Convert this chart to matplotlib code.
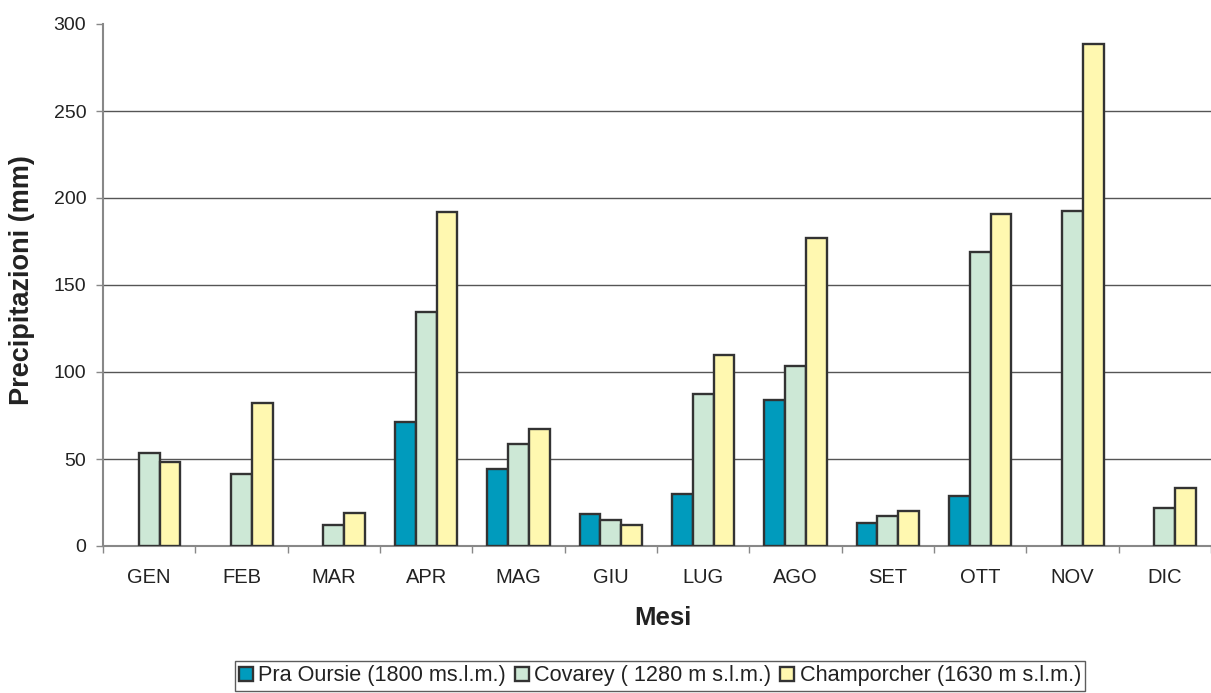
import matplotlib
matplotlib.use("Agg")
import matplotlib.pyplot as plt
import numpy as np

plt.rcParams['font.family'] = ['Liberation Sans', 'DejaVu Sans']

months = ["GEN", "FEB", "MAR", "APR", "MAG", "GIU", "LUG", "AGO", "SET", "OTT", "NOV", "DIC"]
series_names = ["Pra Oursie (1800 ms.l.m.)", "Covarey ( 1280 m s.l.m.)", "Champorcher (1630 m s.l.m.)"]
pra_oursie = [0, 0, 0, 71, 44, 18.5, 30, 84, 13.4, 28.7, 0, 0]
covarey = [53.3, 41.6, 12, 134.5, 58.4, 15, 87.5, 103.5, 17.4, 169, 192.5, 22]
champorcher = [48.5, 82.2, 19.1, 192, 67.2, 12, 109.5, 177, 20.3, 191, 288.7, 33.5]
colors = ["#009bbd", "#cde8d6", "#fff8b0"]
yticks = [0, 50, 100, 150, 200, 250, 300]

W, H = 1211, 693
fig = plt.figure(figsize=(W / 100, H / 100), dpi=100)
ax = fig.add_axes([103 / W, (H - 546) / H, 1 - 103 / W, (546 - 24) / H])

x = np.arange(len(months))
bw = 0.225
for i, (vals, col, name) in enumerate(zip([pra_oursie, covarey, champorcher], colors, series_names)):
    vals = np.array(vals, dtype=float)
    mask = vals > 0
    ax.bar(x[mask] + (i - 1) * bw, vals[mask], width=bw, color=col,
           edgecolor="#333333", linewidth=1.7, label=name, zorder=3)

ax.set_ylim(0, 300)
ax.set_xlim(-0.5, 11.5 - 11 / 93.3)
ax.set_yticks(yticks)
ax.set_yticklabels([str(v) for v in yticks], fontsize=14, color="#222222")
for v in yticks[1:-1]:
    ax.axhline(v, color="#555555", linewidth=1.0, zorder=1)

ax.set_xticks(np.arange(-0.5, 12, 1.0))
ax.set_xticklabels([])
ax.set_xticks(x, minor=True)
ax.set_xticklabels(months, minor=True, fontsize=14.5, color="#222222")
ax.tick_params(axis="x", which="minor", length=0, pad=16)
ax.tick_params(axis="x", which="major", length=5, color="#888888", width=1)
ax.tick_params(axis="y", length=5, color="#888888", width=1, pad=7)

for s in ["top", "right"]:
    ax.spines[s].set_visible(False)
ax.spines["left"].set_color("#888888")
ax.spines["bottom"].set_color("#888888")
ax.spines["left"].set_linewidth(1.5)
ax.spines["bottom"].set_linewidth(1.5)

fig.text(22 / W, 1 - 280 / H, "Precipitazioni (mm)", rotation=90, ha="center", va="center",
         fontsize=19.5, fontweight="bold", color="#222222")
fig.text(663 / W, 1 - 618 / H, "Mesi", ha="center", va="center",
         fontsize=18.5, fontweight="bold", color="#222222")

leg = fig.legend(loc="center", bbox_to_anchor=(660 / W, 1 - 676 / H), ncol=3,
                 fontsize=15.6, frameon=True, fancybox=False, edgecolor="#333333",
                 handlelength=0.65, handleheight=0.65, handletextpad=0.25,
                 columnspacing=0.4, borderpad=0.2, borderaxespad=0, labelcolor="#222222")
leg.get_frame().set_linewidth(1.0)

fig.savefig("out.png", dpi=100)
